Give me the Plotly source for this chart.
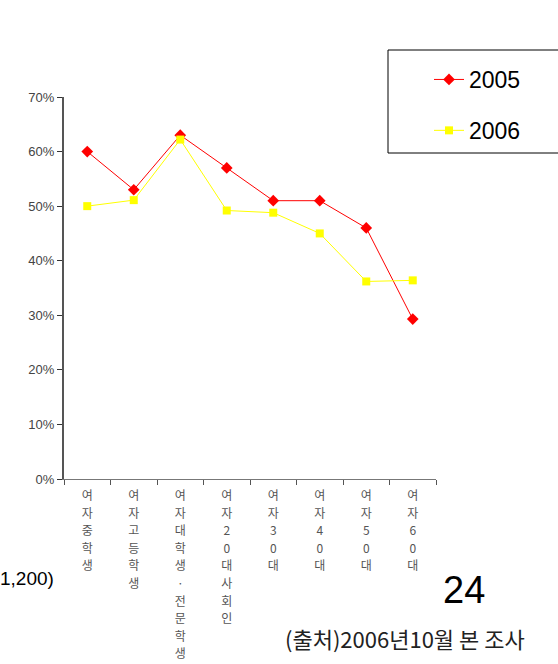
import plotly.graph_objects as go

categories = ["여자중학생", "여자고등학생", "여자대학생·전문학생", "여자20대사회인",
              "여자30대", "여자40대", "여자50대", "여자60대"]
values_2005 = [0.60, 0.53, 0.63, 0.57, 0.51, 0.51, 0.46, 0.293]
values_2006 = [0.50, 0.511, 0.622, 0.492, 0.488, 0.45, 0.362, 0.364]
y_ticks = [0, 0.1, 0.2, 0.3, 0.4, 0.5, 0.6, 0.7]

W, H = 558, 664
L, R, T, B = 64, 122, 97, 185
PW, PH = W - L - R, H - T - B


def px_x(x):
    return (x - L) / PW


def px_y(y):
    return (H - B - y) / PH


# vertical stacked labels, one character per line; the base tick font sets
# the line pitch, the inner span keeps the glyphs small
tick_text = ["<br>".join('<span style="font-size:12px">%s</span>' % ch for ch in c)
             for c in categories]

fig = go.Figure()
fig.add_trace(go.Scatter(
    x=categories, y=values_2005, name="2005", mode="lines+markers",
    line=dict(color="#ff0000", width=1),
    marker=dict(symbol="diamond", size=9, color="#ff0000"),
    legendgroup="a",
))
fig.add_trace(go.Scatter(
    x=categories, y=values_2006, name="2006", mode="lines+markers",
    line=dict(color="#ffff00", width=1),
    marker=dict(symbol="square", size=8, color="#ffff00"),
    legendgroup="b",
))

fig.update_layout(
    width=W, height=H,
    margin=dict(l=L, r=R, t=T, b=B, autoexpand=False),
    paper_bgcolor="white", plot_bgcolor="white",
    font=dict(family="Liberation Sans, Noto Sans CJK KR", color="#333"),
    showlegend=True,
    legend=dict(
        x=px_x(429), y=px_y(58), xanchor="left", yanchor="top",
        bgcolor="rgba(0,0,0,0)", borderwidth=0,
        font=dict(size=23, color="black", family="Liberation Sans"),
        traceorder="grouped", tracegroupgap=18,
    ),
    xaxis=dict(
        type="category", range=[-0.5, 7.5], automargin=False,
        tickmode="array", tickvals=categories, ticktext=tick_text,
        tickson="boundaries", ticks="outside", ticklen=5,
        tickcolor="#555", showline=True, linecolor="#777", linewidth=1,
        showgrid=False, zeroline=False, ticklabelstandoff=4,
        tickfont=dict(size=13.5, color="#555", family="Noto Sans CJK KR"),
    ),
    yaxis=dict(
        range=[0, 0.7], tickvals=y_ticks, tickformat=".0%", automargin=False,
        ticks="outside", ticklen=5, tickcolor="#333",
        showline=True, linecolor="#555", linewidth=2,
        showgrid=False, zeroline=False,
        tickfont=dict(size=13, color="#444"),
    ),
    shapes=[dict(
        type="rect", xref="paper", yref="paper",
        x0=px_x(388), x1=px_x(570), y0=px_y(153), y1=px_y(50),
        line=dict(color="black", width=1), fillcolor="rgba(0,0,0,0)",
        layer="below",
    )],
    annotations=[
        dict(text="1,200)", xref="paper", yref="paper", x=px_x(56), y=px_y(578),
             xanchor="right", yanchor="middle", showarrow=False,
             font=dict(size=19, color="black", family="Liberation Sans")),
        dict(text="24", xref="paper", yref="paper", x=px_x(464), y=px_y(590),
             xanchor="center", yanchor="middle", showarrow=False,
             font=dict(size=38, color="black", family="Liberation Sans")),
        dict(text="(출처)2006년10월 본 조사", xref="paper", yref="paper",
             x=px_x(405), y=px_y(638), xanchor="center", yanchor="middle",
             showarrow=False,
             font=dict(size=22, color="#222", family="Noto Sans CJK KR")),
    ],
)

fig.write_html("out.html")
